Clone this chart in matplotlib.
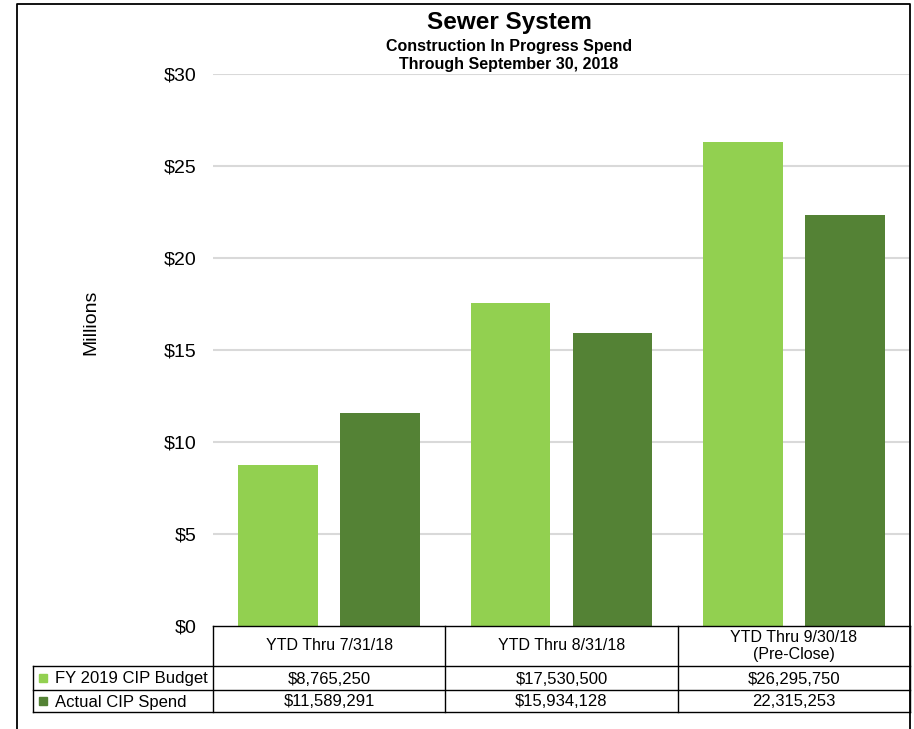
import matplotlib
matplotlib.use("Agg")
import matplotlib.pyplot as plt
from matplotlib.lines import Line2D
from matplotlib.patches import Rectangle
import numpy as np

categories = ["YTD Thru 7/31/18", "YTD Thru 8/31/18", "YTD Thru 9/30/18\n(Pre-Close)"]
series_names = ["FY 2019 CIP Budget", "Actual CIP Spend"]
budget = [8765250, 17530500, 26295750]
actual = [11589291, 15934128, 22315253]
budget_labels = ["$8,765,250", "$17,530,500", "$26,295,750"]
actual_labels = ["$11,589,291", "$15,934,128", "22,315,253"]
yticks = [0, 5, 10, 15, 20, 25, 30]
ytick_labels = ["$0", "$5", "$10", "$15", "$20", "$25", "$30"]
colors = ["#92D050", "#548235"]

plt.rcParams['font.family'] = ['Liberation Sans', 'DejaVu Sans']

W, H = 914, 729
fig = plt.figure(figsize=(W / 100, H / 100), dpi=100)

def fx(px):
    return px / W

def fy(py):
    return 1 - py / H

ax_l, ax_r, ax_t, ax_b = 213, 910, 74, 626
ax = fig.add_axes([fx(ax_l), fy(ax_b), fx(ax_r) - fx(ax_l), fy(ax_t) - fy(ax_b)])

x = np.arange(len(categories))
off = 0.219
bw = 0.343
ax.bar(x - off, np.array(budget) / 1e6, bw, color=colors[0], zorder=3)
ax.bar(x + off, np.array(actual) / 1e6, bw, color=colors[1], zorder=3)
ax.set_xlim(-0.5, len(categories) - 0.5)
ax.set_ylim(0, 30)
ax.set_yticks(yticks)
ax.set_yticklabels(ytick_labels, fontsize=14)
ax.tick_params(axis='y', length=0, pad=12)
ax.set_xticks([])
for s in ax.spines.values():
    s.set_visible(False)
for t in yticks[1:]:
    ax.axhline(t, color="#D9D9D9", lw=1.5, zorder=1)
ax.set_ylabel("Millions", fontsize=14, labelpad=0)
ax.yaxis.set_label_coords((fx(99) - fx(ax_l)) / (fx(ax_r) - fx(ax_l)),
                          (ax_b - 322) / (ax_b - ax_t))

# Titles
tx = 0.5 * (fx(213) + fx(805))
fig.text(tx, fy(23), "Sewer System", ha="center", va="center",
         fontsize=17.5, fontweight="bold")
fig.text(tx, fy(46), "Construction In Progress Spend", ha="center",
         va="center", fontsize=11.5, fontweight="bold")
fig.text(tx, fy(64), "Through September 30, 2018", ha="center",
         va="center", fontsize=11.5, fontweight="bold")

# Data table
def hline(x0, x1, y, lw=1.0):
    fig.add_artist(Line2D([fx(x0), fx(x1)], [fy(y), fy(y)], color="black", lw=lw,
                          transform=fig.transFigure))

def vline(xp, y0, y1, lw=1.0):
    fig.add_artist(Line2D([fx(xp), fx(xp)], [fy(y0), fy(y1)], color="black", lw=lw,
                          transform=fig.transFigure))

r_head, r1, r2, r3 = 626, 666, 690, 712
lab_l = 33
col_w = (ax_r - ax_l) / len(categories)
col_edges = [ax_l + i * col_w for i in range(len(categories) + 1)]

hline(ax_l, ax_r, r_head)
hline(lab_l, ax_r, r1)
hline(lab_l, ax_r, r2)
hline(lab_l, ax_r, r3)
vline(lab_l, r1, r3)
for e in col_edges:
    vline(e, r_head, r3)

for i, cat in enumerate(categories):
    cx = 0.5 * (col_edges[i] + col_edges[i + 1])
    fig.text(fx(cx), fy((r_head + r1) / 2), cat, ha="center", va="center", fontsize=11.5,
             linespacing=1.15)
    fig.text(fx(cx), fy((r1 + r2) / 2 + 1), budget_labels[i], ha="center", va="center",
             fontsize=12)
    fig.text(fx(cx), fy((r2 + r3) / 2 + 1), actual_labels[i], ha="center", va="center",
             fontsize=12)

for j, (name, rows) in enumerate(zip(series_names, [(r1, r2), (r2, r3)])):
    yc = (rows[0] + rows[1]) / 2
    fig.add_artist(Rectangle((fx(39), fy(yc + 4)), fx(8), fy(0) - fy(8), color=colors[j],
                             transform=fig.transFigure))
    fig.text(fx(55), fy(yc + 1), name, ha="left", va="center", fontsize=12)

# Outer frame
fig.add_artist(Line2D([fx(17), fx(17), fx(910), fx(910)], [fy(740), fy(4), fy(4), fy(740)],
                      color="black", lw=1.3, transform=fig.transFigure))

fig.savefig("out.png", dpi=100)
